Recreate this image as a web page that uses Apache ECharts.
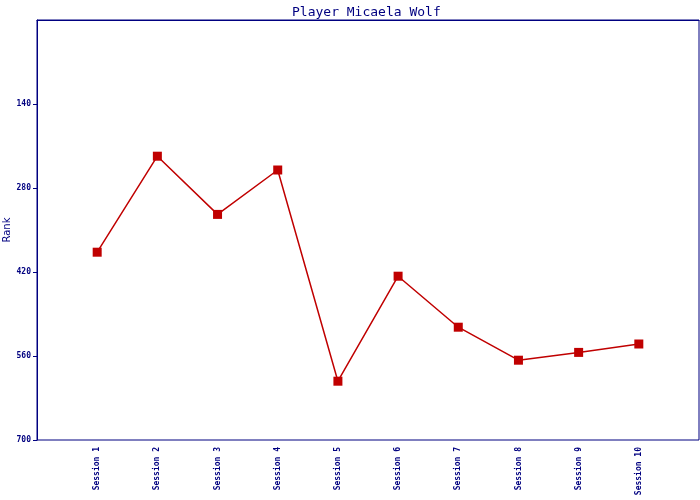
<!DOCTYPE html>
<html>
<head>
<meta charset="utf-8">
<script src="https://cdn.jsdelivr.net/npm/echarts@6/dist/echarts.min.js"></script>
<style>html,body{margin:0;padding:0;background:#fff}#c{width:700px;height:500px}</style>
</head>
<body>
<div id="c"></div>
<script>
const titleText = 'Player Micaela Wolf';
const categories = ['Session 1','Session 2','Session 3','Session 4','Session 5','Session 6','Session 7','Session 8','Session 9','Session 10'];
const ranks = [387, 227, 324, 250, 602, 427, 512, 567, 554, 540];
const yTicks = [0, 140, 280, 420, 560, 700];

const navy = '#000080';
const red = '#c00000';
const chart = echarts.init(document.getElementById('c'), null, {renderer: 'canvas'});
chart.setOption({
  animation: false,
  backgroundColor: '#fff',
  title: {
    text: titleText, left: 287, top: 1,
    textStyle: {fontFamily: 'DejaVu Sans Mono', fontSize: 13, fontWeight: 'normal', color: navy}
  },
  grid: {left: 37, right: 1, top: 20, bottom: 60, show: true, borderColor: navy, borderWidth: 1,
         backgroundColor: 'transparent', containLabel: false, outerBoundsMode: 'none'},
  xAxis: {
    type: 'category',
    data: [''].concat(categories, ['']),
    boundaryGap: false,
    axisLine: {lineStyle: {color: navy, width: 1}},
    axisTick: {show: false},
    splitLine: {show: false},
    axisLabel: {
      rotate: 90, interval: 0, margin: 7, color: navy,
      fontFamily: 'DejaVu Sans Mono', fontSize: 8, fontWeight: 'bold'
    }
  },
  yAxis: {
    type: 'value', inverse: true,
    min: yTicks[0], max: yTicks[yTicks.length - 1], interval: yTicks[1] - yTicks[0],
    name: 'Rank', nameLocation: 'middle', nameGap: 25, nameRotate: 90, nameMoveOverlap: false,
    nameTextStyle: {color: navy, fontFamily: 'DejaVu Sans', fontSize: 10},
    axisLine: {show: true, lineStyle: {color: navy, width: 1}},
    axisTick: {show: true, length: 4, lineStyle: {color: navy}},
    splitLine: {show: false},
    axisLabel: {
      showMinLabel: false, margin: 6, color: navy,
      fontFamily: 'DejaVu Sans Mono', fontSize: 8, fontWeight: 'bold'
    }
  },
  series: [{
    type: 'line',
    data: ['-'].concat(ranks, ['-']),
    symbol: 'rect', symbolSize: 9,
    itemStyle: {color: red},
    lineStyle: {color: red, width: 1.5},
    connectNulls: false
  }]
});
</script>
</body>
</html>
